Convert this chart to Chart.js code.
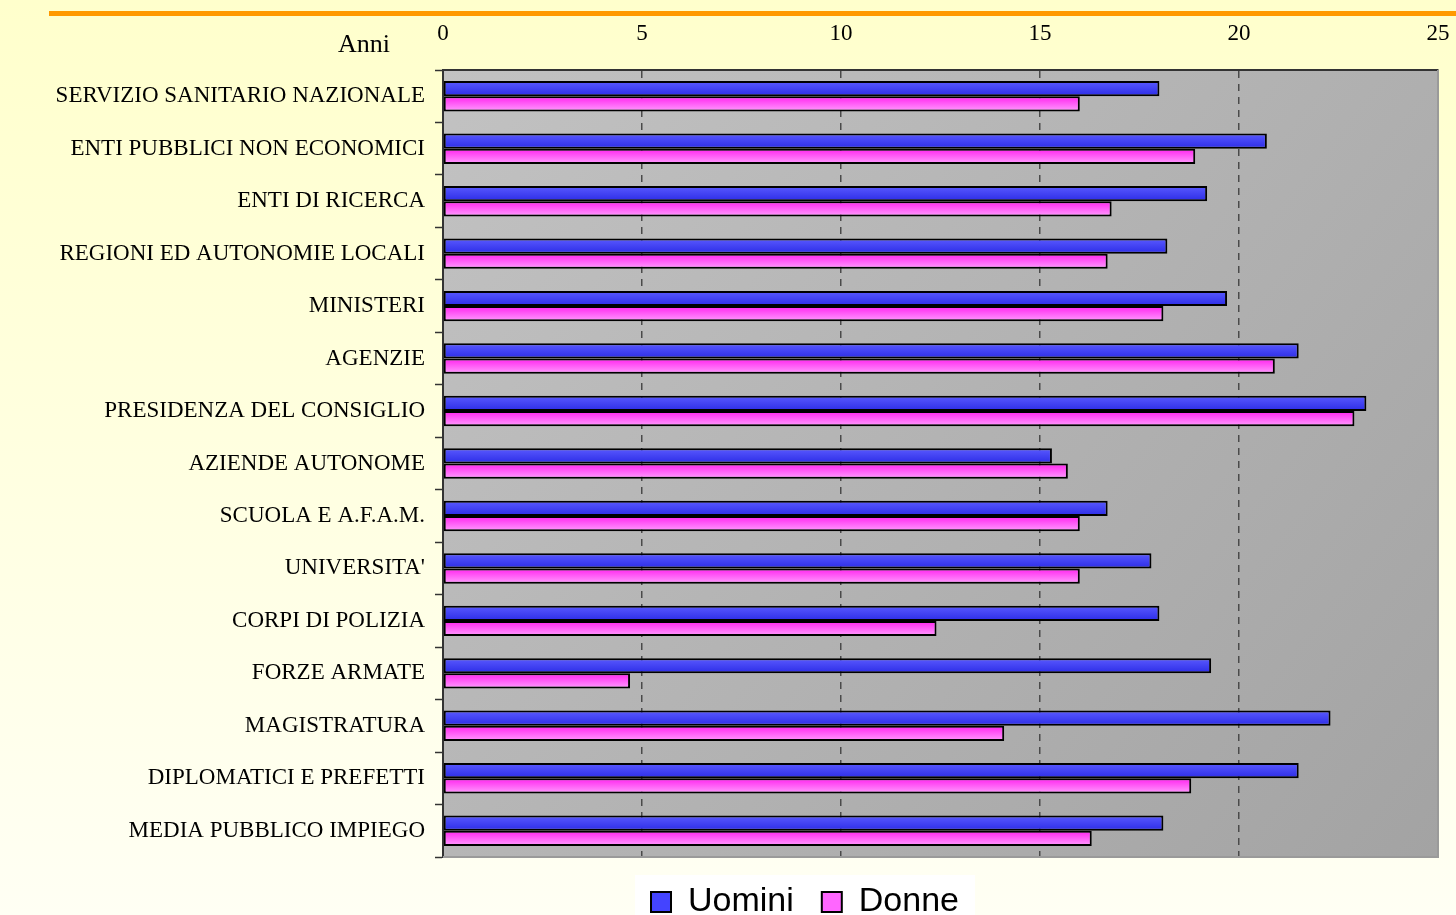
<!DOCTYPE html>
<html>
<head>
<meta charset="utf-8">
<script src="https://cdn.jsdelivr.net/npm/chart.js@4.4.1/dist/chart.umd.min.js"></script>
<style>
html, body { margin: 0; padding: 0; width: 1456px; height: 915px; overflow: hidden; }
body { background: linear-gradient(180deg, #ffffcc 0%, #fffff4 100%); position: relative; }
#linea { position: absolute; left: 49px; top: 11px; width: 1407px; height: 5px; background: #ff9900; }
#contenitore { position: absolute; left: 0; top: 0; width: 1456px; height: 915px; }
</style>
</head>
<body>
<div id="linea"></div>
<div id="contenitore"><canvas id="graficoAnni"></canvas></div>
<script>
// anni di anzianità per comparto
const categorie = [
  "SERVIZIO SANITARIO NAZIONALE",
  "ENTI PUBBLICI NON ECONOMICI",
  "ENTI DI RICERCA",
  "REGIONI ED AUTONOMIE LOCALI",
  "MINISTERI",
  "AGENZIE",
  "PRESIDENZA DEL CONSIGLIO",
  "AZIENDE AUTONOME",
  "SCUOLA E A.F.A.M.",
  "UNIVERSITA'",
  "CORPI DI POLIZIA",
  "FORZE ARMATE",
  "MAGISTRATURA",
  "DIPLOMATICI E PREFETTI",
  "MEDIA PUBBLICO IMPIEGO"
];
const uomini = [18.0, 20.7, 19.2, 18.2, 19.7, 21.5, 23.2, 15.3, 16.7, 17.8, 18.0, 19.3, 22.3, 21.5, 18.1];
const donne  = [16.0, 18.9, 16.8, 16.7, 18.1, 20.9, 22.9, 15.7, 16.0, 16.0, 12.4, 4.7, 14.1, 18.8, 16.3];
const assex = [0, 25, 5];

const sfondoArea = {
  id: "sfondoArea",
  afterLayout(chart) {
    // legenda spostata verso destra come nell'originale
    chart.legend.left += 86;
    chart.legend.right += 86;
  },
  beforeDraw(chart) {
    const ctx = chart.ctx;
    const a = chart.chartArea;
    // riquadro bianco della legenda
    const hb = chart.legend.legendHitBoxes;
    if (hb && hb.length) {
      const l = hb[0].left - 16;
      const r = hb[hb.length - 1].left + hb[hb.length - 1].width + 16;
      ctx.fillStyle = "#ffffff";
      ctx.fillRect(l, 875, r - l, 40);
    }
    const g = ctx.createLinearGradient(a.left, a.top, a.right, a.bottom);
    g.addColorStop(0, "#c2c2c2");
    g.addColorStop(1, "#a3a3a3");
    ctx.fillStyle = g;
    ctx.fillRect(a.left, a.top, a.right - a.left, a.bottom - a.top);
  },
  beforeDatasetsDraw(chart) {
    const ctx = chart.ctx;
    chart.data.datasets.forEach((ds, i) => {
      chart.getDatasetMeta(i).data.forEach(bar => {
        const top = bar.y - bar.height / 2;
        const g = ctx.createLinearGradient(0, top, 0, top + bar.height);
        g.addColorStop(0, ds.sfumatura[0]);
        g.addColorStop(1, ds.sfumatura[1]);
        bar.options = Object.assign({}, bar.options, { backgroundColor: g });
      });
    });
  },
  afterDraw(chart) {
    const ctx = chart.ctx;
    const a = chart.chartArea;
    ctx.save();
    ctx.strokeStyle = "#9a9a9a";
    ctx.lineWidth = 2;
    ctx.beginPath();
    ctx.moveTo(a.right, a.top);
    ctx.lineTo(a.right, a.bottom);
    ctx.lineTo(a.left, a.bottom);
    ctx.stroke();
    ctx.fillStyle = "#000";
    ctx.font = "26px 'Liberation Serif'";
    ctx.textAlign = "right";
    ctx.textBaseline = "middle";
    ctx.fillText("Anni", a.left - 53, 45);
    ctx.restore();
  }
};

new Chart(document.getElementById("graficoAnni"), {
  type: "bar",
  data: {
    labels: categorie,
    datasets: [{
      label: "Uomini",
      data: uomini,
      backgroundColor: "#4444ff",
      sfumatura: ["#5a5aff", "#2c2ce6"],
      borderColor: "#000",
      borderWidth: 2,
      borderSkipped: false
    }, {
      label: "Donne",
      data: donne,
      backgroundColor: "#ff66ff",
      sfumatura: ["#ff22ee", "#ff9cff"],
      borderColor: "#000",
      borderWidth: 2,
      borderSkipped: false
    }]
  },
  options: {
    indexAxis: "y",
    responsive: true,
    maintainAspectRatio: false,
    animation: false,
    layout: { padding: { top: 0, left: 0, right: 18, bottom: -14 } },
    categoryPercentage: 0.58,
    barPercentage: 1.0,
    plugins: {
      tooltip: { enabled: false },
      legend: {
        position: "bottom",
        labels: {
          font: { family: "'Liberation Sans'", size: 34 },
          color: "#000",
          boxWidth: 20,
          boxHeight: 20,
          padding: 28
        }
      }
    },
    scales: {
      x: {
        position: "top",
        min: assex[0],
        max: assex[1],
        afterFit(scale) { scale.height = 70; },
        ticks: {
          stepSize: assex[2],
          padding: 0,
          color: "#000",
          font: { family: "'Liberation Serif'", size: 23 }
        },
        grid: {
          drawTicks: true,
          tickLength: 22,
          tickColor: "rgba(0,0,0,0)",
          color: c => (c.tick && (c.tick.value === 0 || c.tick.value === 25)) ? "rgba(0,0,0,0)" : "#4a4a4a",
          lineWidth: 1.5
        },
        border: { color: "#333", width: 2, dash: [7, 6] }
      },
      y: {
        afterFit(scale) { scale.width = 443; },
        ticks: {
          padding: 10,
          color: "#000",
          font: { family: "'Liberation Serif'", size: 23 }
        },
        grid: {
          drawOnChartArea: false,
          drawTicks: true,
          tickLength: 8,
          tickColor: "#333",
          tickWidth: 1.5
        },
        border: { color: "#333", width: 2 }
      }
    }
  },
  plugins: [sfondoArea]
});
</script>
</body>
</html>
